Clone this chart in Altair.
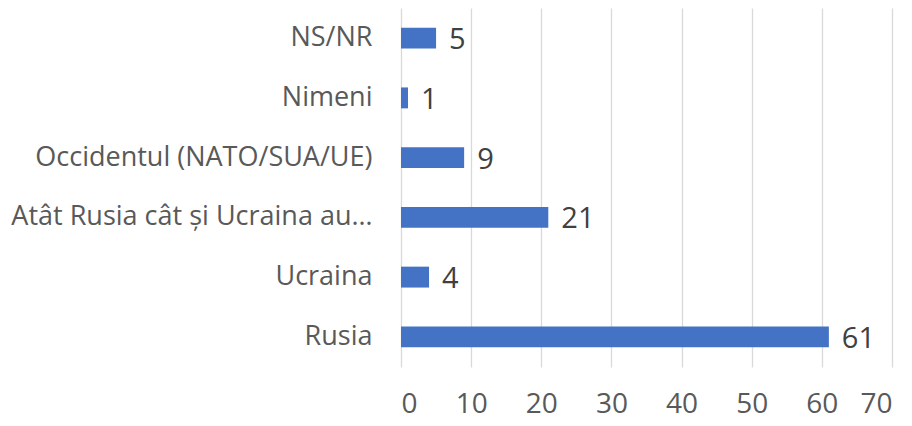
import altair as alt
import pandas as pd

categories = ["NS/NR", "Nimeni", "Occidentul (NATO/SUA/UE)",
              "Atât Rusia cât și Ucraina au…", "Ucraina", "Rusia"]
values = [5, 1, 9, 21, 4, 61]

df = pd.DataFrame({"cat": categories, "val": values})

FONT = "Open Sans"
GREY = "#595959"

y_enc = alt.Y("cat:N", sort=categories, title=None,
              scale=alt.Scale(paddingInner=0.65, paddingOuter=0.33),
              axis=alt.Axis(domain=False, ticks=False, labelFontSize=27,
                            labelFont=FONT, labelColor=GREY, labelPadding=29,
                            labelLimit=500, grid=False))
x_enc = alt.X("val:Q", title=None,
              scale=alt.Scale(domain=[0, 70], nice=False),
              axis=alt.Axis(values=[0, 10, 20, 30, 40, 50, 60, 70],
                            domain=False, ticks=False, labelFontSize=28,
                            labelFont=FONT, labelColor=GREY, labelPadding=23,
                            grid=True, gridColor="#D9D9D9", gridWidth=1.3))

bars = alt.Chart(df).mark_bar(color="#4472C4").encode(x=x_enc, y=y_enc)
labels = alt.Chart(df).mark_text(align="left", baseline="middle", dx=13, dy=2,
                                 fontSize=29, font=FONT, color="#404040").encode(
    x="val:Q", y=alt.Y("cat:N", sort=categories), text="val:Q")

chart = (bars + labels).properties(
    width=491, height=359,
    autosize=alt.AutoSizeParams(type="none"),
    padding={"left": 393, "top": 0, "right": 10, "bottom": 60},
).configure_view(stroke=None)

chart.save("out.html", embed_options={"renderer": "svg", "actions": False})
